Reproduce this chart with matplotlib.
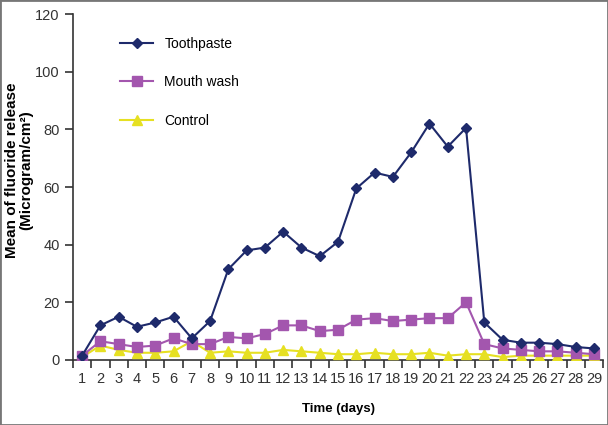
import matplotlib
matplotlib.use('Agg')
from matplotlib import pyplot as plt
from matplotlib.patches import Rectangle

plt.rcParams['font.family'] = ['Liberation Sans', 'DejaVu Sans']

days = list(range(1, 30))
toothpaste = [1.5, 12, 15, 11.5, 13, 15, 7.5, 13.5, 31.5, 38, 39, 44.5, 39, 36, 41,
              59.5, 65, 63.5, 72, 82, 74, 80.5, 13, 7, 6, 6, 5.5, 4.5, 4]
mouth_wash = [1.5, 6.5, 5.5, 4.5, 5, 7.5, 5.5, 5.5, 8, 7.5, 9, 12, 12, 10, 10.5,
              14, 14.5, 13.5, 14, 14.5, 14.5, 20, 5.5, 4, 3.5, 3, 3, 2.5, 2]
control = [1, 5, 3.5, 2.5, 2.5, 3, 6.5, 2.5, 3, 2.5, 2.5, 3.5, 3, 2.5, 2,
           2, 2.5, 2, 2, 2.5, 1.5, 2, 2, 1, 1.5, 1.5, 1.5, 1.5, 1.5]

fig = plt.figure(figsize=(6.08, 4.25), dpi=100)
ax = fig.add_axes([0.120, 0.153, 0.872, 0.814])

# plot in reverse so toothpaste sits on top
ax.plot(days, control, c='#E6E022', marker='^', ms=7, lw=1.5, label='Control', zorder=3)
ax.plot(days, mouth_wash, c='#A356AE', marker='s', ms=7, lw=1.5, label='Mouth wash', zorder=4)
ax.plot(days, toothpaste, c='#1E2A6B', marker='D', ms=5.5, lw=1.5, label='Toothpaste', zorder=5)

ax.set_xlim(0.5, 29.5)
ax.set_ylim(0, 120)
ax.set_yticks(range(0, 121, 20))
ax.set_xticks(days)
ax.set_xticks([d + 0.5 for d in range(0, 30)], minor=True)
ax.tick_params(axis='x', which='major', length=0, pad=9, labelsize=10.5)
ax.tick_params(axis='x', which='minor', length=6, width=1.2, direction='out')
ax.tick_params(axis='y', length=6, width=1.2, labelsize=10.5, colors='#333333')
ax.tick_params(axis='x', colors='#333333', which='both')

for s in ['top', 'right']:
    ax.spines[s].set_visible(False)
for s in ['left', 'bottom']:
    ax.spines[s].set_linewidth(1.2)
    ax.spines[s].set_color('#333333')

ax.set_xlabel('Time (days)', fontsize=9.5, fontweight='bold', labelpad=12)
ax.set_ylabel('Mean of fluoride release\n(Microgram/cm²)', fontsize=11,
              fontweight='bold', linespacing=1.0)
ax.yaxis.set_label_coords(-0.075, 0.548)

handles, labels = ax.get_legend_handles_labels()
ax.legend(handles[::-1], labels[::-1], loc='upper left', bbox_to_anchor=(0.065, 0.97),
          frameon=False, fontsize=10, labelspacing=1.75, handlelength=2.4)

fig.patches.append(Rectangle((0, 0), 1, 1, transform=fig.transFigure, fill=False,
                             edgecolor='#777777', lw=2))

plt.savefig('out.png', dpi=100)
